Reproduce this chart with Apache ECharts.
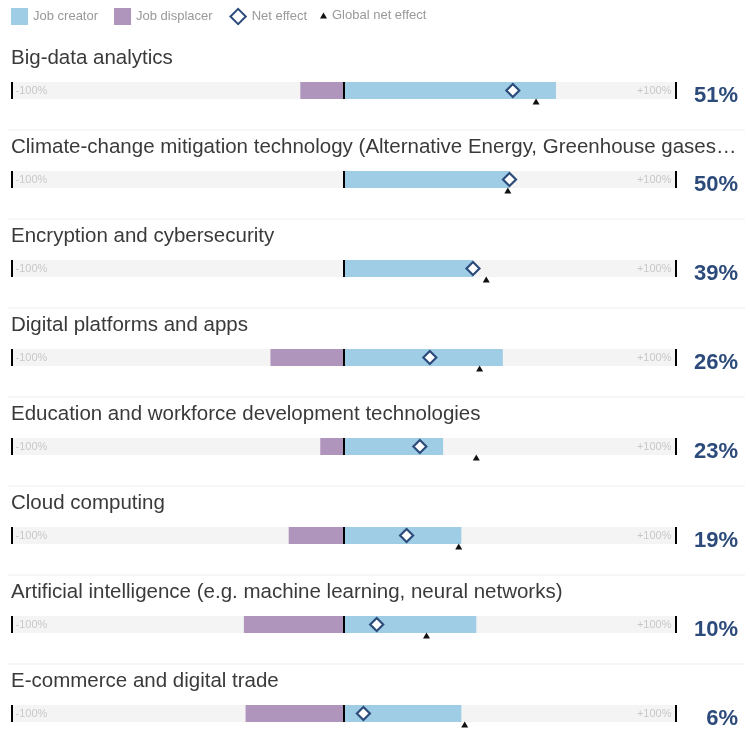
<!DOCTYPE html>
<html>
<head>
<meta charset="utf-8">
<title>Technology adoption: job creators and displacers</title>
<script src="https://cdn.jsdelivr.net/npm/echarts@6/dist/echarts.min.js"></script>
<style>
  html, body { margin: 0; padding: 0; background: #fff; }
  #chart { width: 753px; height: 729px; }
</style>
</head>
<body>
<div id="chart"></div>
<script>
// Technologies, in the order they are listed
const categories = [
  'Big-data analytics',
  'Climate-change mitigation technology (Alternative Energy, Greenhouse gases emissions reduction)',
  'Encryption and cybersecurity',
  'Digital platforms and apps',
  'Education and workforce development technologies',
  'Cloud computing',
  'Artificial intelligence (e.g. machine learning, neural networks)',
  'E-commerce and digital trade'
];

// Share of respondents expecting the technology to create jobs (%)
const jobCreator = [64, 50, 39, 48, 30, 35.5, 40, 35.5];
// Share expecting it to displace jobs (%, negative side)
const jobDisplacer = [-13, 0, 0, -22, -7, -16.5, -30, -29.5];
// Net effect for the region (%)
const netEffect = [51, 50, 39, 26, 23, 19, 10, 6];
// Global net effect (%)
const globalNet = [58, 49.5, 43, 41, 40, 34.7, 25, 36.5];

// Scale end labels
const scaleLabels = ['-100%', '+100%'];

const COLORS = {
  track: '#f4f4f4',
  creator: '#a0cde6',
  displacer: '#af94bc',
  net: '#2c4b7b',
  global: '#111111',
  value: '#2c4b7b'
};

const ROW = 89;
const TRACK_TOP = 82;
const TRACK_H = 17;
const FONT = '"Liberation Sans", Arial, sans-serif';

const grids = [], xAxes = [], yAxes = [], series = [], titles = [], graphics = [];

categories.forEach((name, i) => {
  const top = TRACK_TOP + ROW * i;
  grids.push({ left: 11.5, right: 77.5, top: top, height: TRACK_H });
  xAxes.push({ gridIndex: i, type: 'value', min: -100, max: 100, show: false });
  yAxes.push({ gridIndex: i, type: 'category', data: [name], show: false });

  titles.push({
    text: name,
    left: 11,
    top: top - 34,
    padding: 0,
    textStyle: {
      fontFamily: FONT, fontSize: 20.5, fontWeight: 'normal', color: '#3a3a3a',
      width: 729, overflow: 'truncate', ellipsis: '…'
    }
  });

  const ax = { xAxisIndex: i, yAxisIndex: i };
  const endLabel = {
    show: true, color: '#c8c8c8', fontSize: 11, fontFamily: FONT, distance: 4
  };

  // grey track, left half
  series.push(Object.assign({}, ax, {
    type: 'bar', name: 'track', data: [-100], barWidth: '100%', barGap: '-100%',
    silent: true, itemStyle: { color: COLORS.track },
    label: Object.assign({}, endLabel, { position: 'insideLeft', formatter: scaleLabels[0] })
  }));
  // grey track, right half
  series.push(Object.assign({}, ax, {
    type: 'bar', name: 'track', data: [100], barWidth: '100%', barGap: '-100%',
    silent: true, itemStyle: { color: COLORS.track },
    label: Object.assign({}, endLabel, { position: 'insideRight', formatter: scaleLabels[1] })
  }));
  series.push(Object.assign({}, ax, {
    type: 'bar', name: 'Job displacer', data: [jobDisplacer[i]], barWidth: '100%', barGap: '-100%',
    itemStyle: { color: COLORS.displacer }
  }));
  series.push(Object.assign({}, ax, {
    type: 'bar', name: 'Job creator', data: [jobCreator[i]], barWidth: '100%', barGap: '-100%',
    itemStyle: { color: COLORS.creator }
  }));
  // global net effect marker, sitting just under the track; also carries the scale ticks
  series.push(Object.assign({}, ax, {
    type: 'scatter', name: 'Global net effect', z: 5, clip: false,
    data: [[globalNet[i], name]],
    symbol: 'triangle', symbolSize: [7, 6], symbolOffset: [0, 11],
    itemStyle: { color: COLORS.global, opacity: 1 },
    markLine: {
      silent: true, symbol: 'none', animation: false,
      label: { show: false },
      lineStyle: { color: '#000', width: 2, type: 'solid' },
      data: [{ xAxis: -100 }, { xAxis: 0 }, { xAxis: 100 }]
    }
  }));
  series.push(Object.assign({}, ax, {
    type: 'scatter', name: 'Net effect', z: 6, clip: false,
    data: [[netEffect[i], name]],
    symbol: 'diamond', symbolSize: 13,
    itemStyle: { color: '#fff', borderColor: COLORS.net, borderWidth: 2.2, opacity: 1 }
  }));
  // net value printed right of the track
  series.push(Object.assign({}, ax, {
    type: 'scatter', name: 'value', z: 6, clip: false, silent: true,
    data: [[100, name, netEffect[i]]],
    symbolSize: 0,
    itemStyle: { opacity: 1 },
    label: {
      show: true, position: 'inside', align: 'right', verticalAlign: 'middle',
      offset: [62.5, 5],
      formatter: p => p.value[2] + '%',
      fontFamily: FONT, fontSize: 22, fontWeight: 'bold', color: COLORS.value
    }
  }));

  if (i < categories.length - 1) {
    graphics.push({
      type: 'line', silent: true,
      shape: { x1: 8, y1: top + 48, x2: 745, y2: top + 48 },
      style: { stroke: '#eeeeee', lineWidth: 1 }
    });
  }
});

const chart = echarts.init(document.getElementById('chart'), null, { renderer: 'canvas' });
chart.setOption({
  animation: false,
  backgroundColor: '#fff',
  title: titles,
  legend: [
    {
      left: 11, top: 7, itemWidth: 17, itemHeight: 17, itemGap: 16, padding: 0,
      textStyle: { color: '#999', fontSize: 13, fontFamily: FONT },
      data: [
        { name: 'Job creator', icon: 'rect' },
        { name: 'Job displacer', icon: 'rect' },
        { name: 'Net effect', icon: 'path://M0,0M20,20M10,1L19,10L10,19L1,10Z' }
      ]
    },
    {
      left: 320, top: 9, itemWidth: 7, itemHeight: 6, padding: 0,
      textStyle: { color: '#999', fontSize: 13, fontFamily: FONT },
      data: [{ name: 'Global net effect', icon: 'triangle' }]
    }
  ],
  grid: grids,
  xAxis: xAxes,
  yAxis: yAxes,
  series: series,
  graphic: graphics
});
</script>
</body>
</html>
